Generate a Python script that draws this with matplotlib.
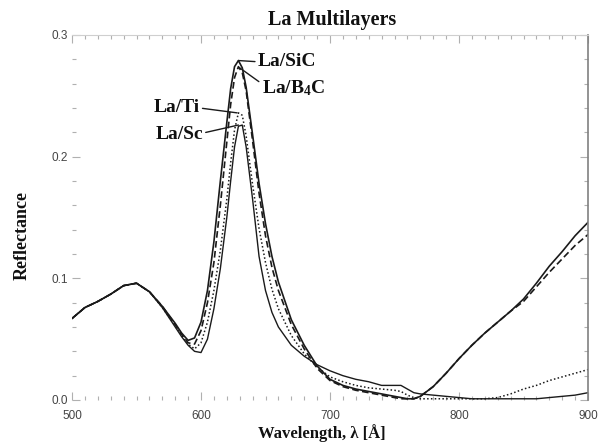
import matplotlib
matplotlib.use("Agg")
import matplotlib.pyplot as plt
from matplotlib.ticker import MultipleLocator

plt.rcParams['mathtext.fontset'] = 'custom'
plt.rcParams['mathtext.rm'] = 'Liberation Serif:bold'
plt.rcParams['mathtext.it'] = 'Liberation Serif:bold'
plt.rcParams['mathtext.bf'] = 'Liberation Serif:bold'

wavelength = [500, 510, 520, 530, 540, 550, 560, 570, 580, 585, 590, 595, 600, 605, 610,
              615, 620, 623, 626, 629, 632, 635, 640, 645, 650, 655, 660, 670, 680, 690,
              700, 710, 720, 730, 740, 750, 755, 760, 765, 770, 780, 790, 800, 810, 820,
              830, 840, 850, 860, 870, 880, 890, 900]

la_sic = [.067, .076, .081, .087, .094, .096, .089, .077, .063, .055, .049, .051, .064, .090, .130,
          .180, .228, .256, .274, .279, .273, .257, .218, .178, .145, .118, .097, .066, .045, .028,
          .017, .012, .009, .007, .005, .003, .002, .001, .001, .003, .011, .022, .034, .045, .055,
          .064, .073, .083, .096, .110, .122, .135, .146]

la_b4c = [.067, .076, .081, .087, .094, .096, .089, .077, .062, .054, .047, .046, .057, .080, .113,
          .160, .212, .243, .265, .274, .269, .254, .213, .170, .135, .109, .090, .062, .042, .026,
          .016, .011, .008, .006, .004, .002, .001, .001, .001, .003, .011, .022, .034, .045, .055,
          .064, .073, .081, .093, .105, .116, .127, .136]

la_ti = [.067, .076, .081, .087, .094, .096, .089, .076, .061, .053, .046, .042, .047, .064, .090,
         .123, .165, .195, .222, .236, .234, .217, .177, .141, .113, .091, .075, .053, .038, .027,
         .019, .015, .012, .010, .009, .008, .007, .004, .002, .001, .001, .001, .001, .001, .001,
         .002, .005, .009, .012, .016, .019, .022, .025]

la_sc = [.067, .076, .081, .087, .094, .096, .089, .076, .060, .052, .045, .040, .039, .050, .075,
         .108, .150, .180, .208, .225, .226, .208, .165, .118, .090, .072, .060, .045, .036, .029,
         .024, .020, .017, .015, .012, .012, .012, .009, .006, .005, .004, .003, .002, .001, .001,
         .001, .001, .001, .001, .002, .003, .004, .006]

labels = ['La/SiC', 'La/B$_{4}$C', 'La/Ti', 'La/Sc']

fig = plt.figure(figsize=(6, 4.42), dpi=100)
ax = fig.add_axes([72/600, 42/442, 516/600, 365/442])

lc = '#1a1a1a'
ax.plot(wavelength, la_sic, color=lc, lw=1.2, ls='-')
ax.plot(wavelength, la_b4c, color=lc, lw=1.2, ls=(0, (4, 2)))
ax.plot(wavelength, la_ti, color=lc, lw=1.1, ls=(0, (1, 1.5)))
ax.plot(wavelength, la_sc, color=lc, lw=1.0, ls='-')

ax.set_xlim(500, 900)
ax.set_ylim(0, 0.3)
ax.xaxis.set_major_locator(MultipleLocator(100))
ax.xaxis.set_minor_locator(MultipleLocator(10))
ax.yaxis.set_major_locator(MultipleLocator(0.1))
ax.yaxis.set_minor_locator(MultipleLocator(0.02))
ax.yaxis.set_major_formatter(matplotlib.ticker.FormatStrFormatter('%.1f'))

for s in ['left', 'bottom']:
    ax.spines[s].set_visible(False)
ax.spines['top'].set_color('#cfcfcf')
ax.spines['top'].set_linewidth(0.8)
ax.spines['right'].set_color('#808080')
ax.spines['right'].set_linewidth(1.2)

ax.tick_params(which='both', direction='in', color='#b0b0b0', top=True, right=True,
               labelsize=8.5, labelcolor='#444444', width=0.8)
ax.tick_params(which='major', length=6)
ax.tick_params(which='minor', length=3)
ax.tick_params(axis='x', pad=7)
ax.tick_params(axis='y', pad=3)
for t in ax.get_xticklabels() + ax.get_yticklabels():
    t.set_fontfamily('Liberation Sans')

serif = dict(fontfamily='Liberation Serif', fontweight='bold', color='#111111')
fig.text(332/600, 1 - 20/442, 'La Multilayers', ha='center', va='center', fontsize=14.5, **serif)
fig.text(22/600, 1 - 235/442, 'Reflectance', ha='center', va='center', rotation=90, fontsize=13, **serif)
fig.text(322/600, 1 - 433/442, 'Wavelength, λ [Å]', ha='center', va='center', fontsize=12, **serif)

ap = dict(arrowstyle='-', lw=1.0, color=lc, shrinkA=0, shrinkB=0)
ax.annotate(labels[0], xy=(629, 0.279), xytext=(644, 0.278), ha='left', va='center',
            fontsize=14, arrowprops=dict(relpos=(0, 0.5), **ap), **serif)
ax.annotate(labels[1], xy=(630, 0.273), xytext=(647, 0.256), ha='left', va='center',
            fontsize=14, arrowprops=dict(relpos=(0, 0.75), **ap), **serif)
ax.annotate(labels[2], xy=(628, 0.236), xytext=(599, 0.240), ha='right', va='center',
            fontsize=14, arrowprops=dict(relpos=(1, 0.5), **ap), **serif)
ax.annotate(labels[3], xy=(629, 0.226), xytext=(601.5, 0.218), ha='right', va='center',
            fontsize=14, arrowprops=dict(relpos=(1, 0.6), **ap), **serif)

fig.savefig('out.png', dpi=100)
